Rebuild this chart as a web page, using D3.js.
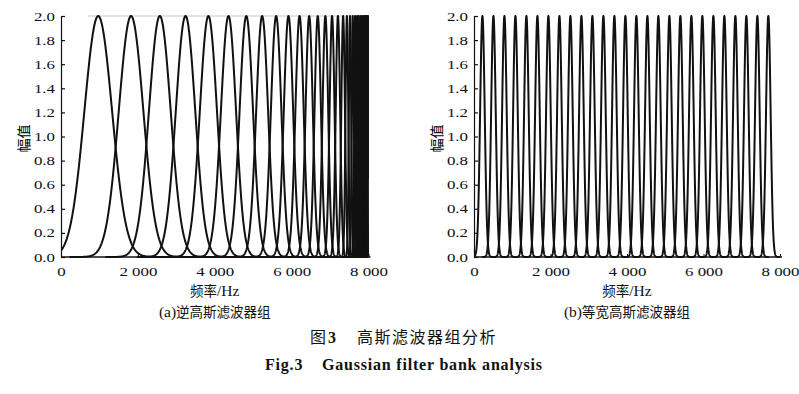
<!DOCTYPE html>
<html>
<head>
<meta charset="utf-8">
<script src="https://cdn.jsdelivr.net/npm/d3@7"></script>
<style>
  html, body { margin: 0; padding: 0; background: #fff; }
  svg { display: block; }
</style>
</head>
<body>
<svg id="chart" width="799" height="394"></svg>
<script>
// ---------------- DATA ----------------
// (a) inverse Gaussian filter bank: centre frequencies (Hz) and widths (Hz)
const invCenters = [969, 1823, 2571, 3240, 3835, 4357, 4821, 5233, 5597, 5918,
                    6206, 6457, 6680, 6878, 7052, 7205, 7340, 7438, 7520, 7590,
                    7650, 7702, 7748, 7790, 7828, 7862, 7893, 7921, 7946, 7968, 7988];
const invSigmas  = [360, 320, 283, 253, 223, 197, 175, 155, 137, 122,
                    108, 95, 84, 74, 65, 58, 48, 36, 30, 26,
                    22, 20, 18, 16, 14.5, 13, 12, 10.6, 9.4, 8.4, 8];
// (b) equal-width Gaussian filter bank
const eqCenters = [220, 508, 795, 1083, 1370, 1658, 1945, 2233, 2520, 2808,
                   3095, 3383, 3670, 3958, 4245, 4533, 4820, 5108, 5395, 5683,
                   5970, 6258, 6545, 6833, 7120, 7408, 7695];
const eqSigmas = eqCenters.map(() => 60);
const peakAmplitude = 2;

const xTickValues = [0, 2000, 4000, 6000, 8000];
const xTickLabels = ["0", "2 000", "4 000", "6 000", "8 000"];
const yTickValues = [0, 0.2, 0.4, 0.6, 0.8, 1.0, 1.2, 1.4, 1.6, 1.8, 2.0];

const yLabel = "幅值";
const xLabel = "频率/Hz";
const subTitles = ["(a)逆高斯滤波器组", "(b)等宽高斯滤波器组"];
const captionCN = ["图", "3", "高斯滤波器组分析"];
const captionEN = ["Fig.3", "Gaussian filter bank analysis"];

// ---------------- DRAW ----------------
const svg = d3.select("#chart");
const SERIF = "'Liberation Serif','Times New Roman',serif";
const CJK = "'Noto Sans CJK SC','Noto Sans CJK JP',sans-serif";

const y = d3.scaleLinear().domain([0, 2]).range([257, 16]);

function stretch(sel, k) {
  sel.each(function () {
    const w = this.getComputedTextLength();
    if (w > 0) {
      d3.select(this).attr("textLength", w * k).attr("lengthAdjust", "spacingAndGlyphs");
    }
  });
}

function panel(opts) {
  const { x, centers, sigmas, id, sub, topLine } = opts;
  const g = svg.append("g");
  const [x0, x1] = x.range();

  g.append("clipPath").attr("id", id)
    .append("rect").attr("x", x0).attr("y", 10).attr("width", x1 - x0 + 0.5).attr("height", 250);

  if (topLine) {
    g.append("line")
      .attr("x1", x(topLine)).attr("x2", x1)
      .attr("y1", y(2)).attr("y2", y(2))
      .attr("stroke", "#c8c8c8").attr("stroke-width", 1);
  }

  const line = d3.line().x(d => x(d[0])).y(d => y(d[1])).curve(d3.curveLinear);
  const curves = g.append("g").attr("clip-path", `url(#${id})`);
  centers.forEach((c, i) => {
    const s = sigmas[i];
    const lo = Math.max(0, c - 5 * s), hi = Math.min(8000, c + 5 * s);
    const n = 240;
    const pts = d3.range(n + 1).map(j => {
      const f = lo + (hi - lo) * j / n;
      return [f, peakAmplitude * Math.exp(-((f - c) ** 2) / (2 * s * s))];
    });
    curves.append("path")
      .attr("d", line(pts))
      .attr("fill", "none")
      .attr("stroke", "#111")
      .attr("stroke-width", 2)
      .attr("stroke-linejoin", "round");
  });

  // x axis (inward ticks)
  const xa = g.append("g").attr("transform", `translate(0,${y(0)})`)
    .call(d3.axisBottom(x).tickValues(xTickValues)
      .tickFormat((d, i) => xTickLabels[i]).tickSizeInner(-3).tickSizeOuter(0).tickPadding(10));
  xa.select(".domain").attr("d", `M${x0},0H${x1 + 2}`).attr("stroke", "#111").attr("stroke-width", 1.4);
  xa.selectAll(".tick line").attr("stroke", "#111");
  xa.selectAll("text").attr("font-family", SERIF).attr("font-size", 12.5).attr("fill", "#111")
    .attr("dy", "0.71em");
  stretch(xa.selectAll("text"), 1.35);

  // y axis (inward ticks)
  const ya = g.append("g").attr("transform", `translate(${x0},0)`)
    .call(d3.axisLeft(y).tickValues(yTickValues).tickFormat(d3.format(".1f"))
      .tickSizeInner(-4).tickSizeOuter(0).tickPadding(6));
  ya.select(".domain").attr("stroke", "#111").attr("stroke-width", 1.2);
  ya.selectAll(".tick line").attr("stroke", "#111").attr("stroke-width", 1.2);
  ya.selectAll("text").attr("font-family", SERIF).attr("font-size", 12.5).attr("fill", "#111");
  stretch(ya.selectAll("text"), 1.35);

  const cx = (x0 + x1) / 2;
  g.append("text")
    .attr("transform", `translate(${x0 - 38},${(y(0) + y(2)) / 2 + 2}) rotate(-90)`)
    .attr("text-anchor", "middle").attr("dominant-baseline", "central")
    .attr("font-family", CJK).attr("font-size", 14).attr("fill", "#000")
    .text(yLabel);

  const xl = g.append("text").attr("x", cx).attr("y", 295.5)
    .attr("text-anchor", "middle").attr("font-size", 13.5).attr("fill", "#111");
  xl.append("tspan").attr("font-family", CJK).text(xLabel.slice(0, 2));
  xl.append("tspan").attr("font-family", SERIF).attr("font-size", 15.5).text(xLabel.slice(2));

  const st = g.append("text").attr("x", cx).attr("y", 316.5)
    .attr("text-anchor", "middle").attr("font-size", 13.5).attr("fill", "#111");
  st.append("tspan").attr("font-family", SERIF).attr("font-size", 15.5).text(sub.slice(0, 3));
  st.append("tspan").attr("font-family", CJK).text(sub.slice(3));
}

panel({
  x: d3.scaleLinear().domain([0, 8000]).range([61, 368.5]),
  centers: invCenters, sigmas: invSigmas, id: "clipA", sub: subTitles[0], topLine: 700
});
panel({
  x: d3.scaleLinear().domain([0, 8000]).range([474, 780]),
  centers: eqCenters, sigmas: eqSigmas, id: "clipB", sub: subTitles[1], topLine: null
});

// captions
svg.append("text").attr("x", 310).attr("y", 343)
  .attr("font-family", CJK).attr("font-weight", 400).attr("font-size", 16).attr("fill", "#111")
  .text(captionCN[0]);
svg.append("text").attr("x", 328).attr("y", 343)
  .attr("font-family", SERIF).attr("font-weight", "bold").attr("font-size", 16).attr("fill", "#111")
  .text(captionCN[1]);
svg.append("text").attr("x", 357).attr("y", 343)
  .attr("font-family", CJK).attr("font-weight", 400).attr("font-size", 16)
  .attr("letter-spacing", 1.5).attr("fill", "#111")
  .text(captionCN[2]);
svg.append("text").attr("x", 265).attr("y", 370)
  .attr("font-family", SERIF).attr("font-weight", "bold").attr("font-size", 16)
  .attr("letter-spacing", 0.8).attr("fill", "#111")
  .text(captionEN[0]);
svg.append("text").attr("x", 322).attr("y", 370)
  .attr("font-family", SERIF).attr("font-weight", "bold").attr("font-size", 16)
  .attr("letter-spacing", 0.8).attr("fill", "#111")
  .text(captionEN[1]);
</script>
</body>
</html>
